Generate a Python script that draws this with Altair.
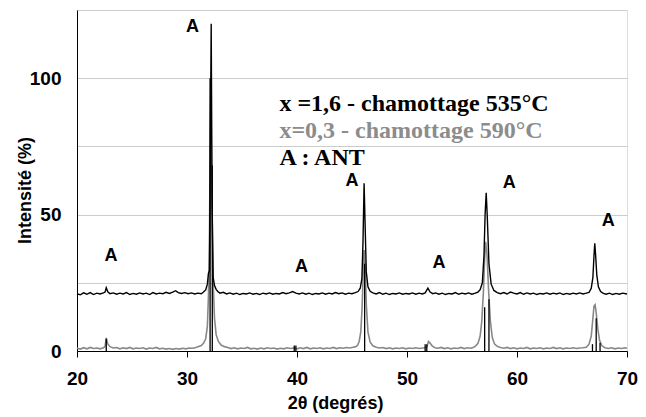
import altair as alt
import pandas as pd

# ---- data ----
black_pts = [
    (20.0, 21.0), (20.3, 20.6), (20.6, 21.3), (20.9, 20.8), (21.2, 21.4), (21.5, 20.7), (21.8, 21.2),
    (22.1, 20.9), (22.4, 21.3), (22.55, 21.6), (22.66, 23.2), (22.8, 21.7), (23.0, 21.0), (23.3, 21.3),
    (23.6, 20.8), (23.9, 21.2), (24.2, 20.9), (24.5, 21.4), (24.8, 20.7), (25.1, 21.1), (25.4, 20.8),
    (25.7, 21.3), (26.0, 20.9), (26.3, 21.2), (26.6, 20.7), (26.9, 21.4), (27.2, 20.9), (27.5, 21.2),
    (27.8, 21.0), (28.1, 21.5), (28.4, 21.1), (28.7, 21.6), (28.96, 22.1), (29.2, 21.4), (29.5, 21.1),
    (29.8, 21.4), (30.1, 21.0), (30.4, 21.3), (30.7, 20.9), (31.0, 21.2), (31.3, 21.0), (31.5, 21.6),
    (31.7, 22.4), (31.85, 24.5), (31.95, 28.5), (32.05, 29.5), (32.12, 75), (32.2, 120), (32.28, 55),
    (32.38, 27), (32.5, 24.0), (32.65, 22.6), (32.8, 21.8), (33.0, 21.2), (33.3, 21.5), (33.6, 20.9),
    (33.9, 21.3), (34.2, 20.8), (34.5, 21.2), (34.8, 20.7), (35.1, 21.1), (35.4, 20.9), (35.7, 21.3),
    (36.0, 20.8), (36.3, 21.1), (36.6, 20.7), (36.9, 21.2), (37.2, 20.9), (37.5, 21.3), (37.8, 20.8),
    (38.1, 21.1), (38.4, 20.9), (38.7, 21.4), (39.0, 21.0), (39.3, 21.3), (39.6, 21.8), (39.9, 21.2),
    (40.2, 20.9), (40.5, 21.3), (40.8, 20.8), (41.1, 21.2), (41.4, 20.7), (41.7, 21.1), (42.0, 20.9),
    (42.3, 21.3), (42.6, 20.8), (42.9, 21.2), (43.2, 20.9), (43.5, 21.4), (43.8, 21.0), (44.1, 21.3),
    (44.4, 20.8), (44.7, 21.2), (45.0, 21.0), (45.3, 21.4), (45.55, 21.8), (45.75, 23.0), (45.9, 26.5),
    (46.0, 40), (46.1, 61.5), (46.2, 45), (46.3, 29), (46.45, 23.5), (46.65, 21.9), (46.9, 21.3),
    (47.2, 20.9), (47.5, 21.4), (47.8, 20.8), (48.1, 21.2), (48.4, 20.7), (48.7, 21.1), (49.0, 20.9),
    (49.3, 21.3), (49.6, 20.8), (49.9, 21.1), (50.2, 20.9), (50.5, 21.3), (50.8, 20.8), (51.1, 21.2),
    (51.4, 20.9), (51.65, 21.3), (51.9, 23.0), (52.1, 21.6), (52.35, 21.0), (52.6, 21.3), (52.9, 20.8),
    (53.2, 21.2), (53.5, 20.7), (53.8, 21.1), (54.1, 20.9), (54.4, 21.4), (54.7, 20.8), (55.0, 21.2),
    (55.3, 20.9), (55.6, 21.3), (55.9, 20.8), (56.2, 21.2), (56.45, 21.6), (56.65, 22.5), (56.85, 25),
    (57.0, 35), (57.1, 50), (57.2, 58), (57.3, 49), (57.45, 32), (57.65, 24.5), (57.9, 22.2),
    (58.2, 21.4), (58.5, 21.0), (58.8, 21.4), (59.1, 20.9), (59.4, 21.6), (59.7, 21.2), (60.0, 20.9),
    (60.3, 21.4), (60.6, 20.8), (60.9, 21.3), (61.2, 20.9), (61.5, 21.2), (61.8, 20.7), (62.1, 21.1),
    (62.4, 20.9), (62.7, 21.3), (63.0, 20.8), (63.3, 21.2), (63.6, 20.9), (63.9, 21.3), (64.2, 20.7),
    (64.5, 21.1), (64.8, 20.8), (65.1, 21.2), (65.4, 20.9), (65.7, 21.3), (66.0, 20.9), (66.3, 21.2),
    (66.55, 21.5), (66.75, 23.0), (66.9, 27), (67.0, 35), (67.07, 39.5), (67.15, 35), (67.25, 28),
    (67.4, 23.5), (67.6, 21.8), (67.85, 21.1), (68.1, 20.8), (68.4, 21.2), (68.7, 20.7), (69.0, 21.1),
    (69.3, 20.8), (69.6, 21.2), (70.0, 20.9),
]

gray_pts = [
    (20.0, 1.0), (20.3, 0.7), (20.6, 1.2), (20.9, 0.8), (21.2, 1.3), (21.5, 0.9), (21.8, 1.1),
    (22.1, 0.8), (22.4, 1.2), (22.55, 1.6), (22.66, 4.8), (22.8, 2.6), (23.0, 1.6), (23.3, 1.1),
    (23.6, 1.3), (23.9, 0.8), (24.2, 1.2), (24.5, 0.9), (24.8, 1.3), (25.1, 0.8), (25.4, 1.1),
    (25.7, 0.9), (26.0, 1.2), (26.3, 0.7), (26.6, 1.1), (26.9, 0.9), (27.2, 1.3), (27.5, 0.8),
    (27.8, 1.0), (28.1, 0.7), (28.4, 0.9), (28.7, 0.6), (29.0, 0.9), (29.3, 0.7), (29.6, 1.0),
    (29.9, 0.8), (30.2, 1.1), (30.5, 1.0), (30.8, 1.3), (31.0, 1.6), (31.3, 2.0), (31.5, 2.8),
    (31.7, 4.5), (31.85, 9), (31.95, 20), (32.05, 45), (32.15, 100), (32.25, 60), (32.35, 28),
    (32.5, 12), (32.65, 6), (32.85, 3.5), (33.1, 2.2), (33.4, 1.6), (33.7, 1.3), (34.0, 0.9),
    (34.3, 1.2), (34.6, 0.8), (34.9, 1.1), (35.2, 0.9), (35.5, 1.3), (35.8, 0.8), (36.1, 1.0),
    (36.4, 0.7), (36.7, 1.1), (37.0, 0.8), (37.3, 1.2), (37.6, 0.9), (37.9, 1.1), (38.2, 0.7),
    (38.5, 1.0), (38.8, 0.8), (39.1, 1.2), (39.4, 0.9), (39.7, 1.1), (40.0, 0.8), (40.3, 1.2),
    (40.6, 0.9), (40.9, 1.3), (41.2, 0.8), (41.5, 1.1), (41.8, 0.9), (42.1, 1.2), (42.4, 0.8),
    (42.7, 1.1), (43.0, 0.9), (43.3, 1.3), (43.6, 0.9), (43.9, 1.2), (44.2, 1.0), (44.5, 1.3),
    (44.8, 1.1), (45.1, 1.4), (45.3, 1.5), (45.5, 2.0), (45.65, 3.5), (45.8, 7), (45.92, 16),
    (46.02, 29), (46.1, 37), (46.2, 31), (46.3, 17), (46.45, 7), (46.65, 3.2), (46.9, 1.9),
    (47.2, 1.4), (47.5, 1.1), (47.8, 1.3), (48.1, 0.9), (48.4, 1.2), (48.7, 0.8), (49.0, 1.1),
    (49.3, 0.9), (49.6, 1.2), (49.9, 0.8), (50.2, 1.1), (50.5, 0.9), (50.8, 1.2), (51.1, 0.9),
    (51.4, 1.1), (51.65, 1.2), (51.8, 1.5), (51.95, 3.5), (52.1, 2.9), (52.3, 1.8), (52.55, 1.2),
    (52.8, 1.0), (53.1, 1.3), (53.4, 0.9), (53.7, 1.2), (54.0, 0.8), (54.3, 1.1), (54.6, 0.9),
    (54.9, 1.3), (55.2, 0.9), (55.5, 1.2), (55.8, 1.0), (56.0, 1.3), (56.2, 1.7), (56.45, 2.8),
    (56.65, 5.5), (56.8, 11), (56.95, 22), (57.05, 33), (57.15, 40), (57.28, 35), (57.42, 22),
    (57.58, 11), (57.75, 5), (57.95, 2.6), (58.2, 1.7), (58.5, 1.3), (58.8, 1.0), (59.1, 1.3),
    (59.4, 0.9), (59.7, 1.2), (60.0, 0.8), (60.3, 1.1), (60.6, 0.9), (60.9, 1.3), (61.2, 0.8),
    (61.5, 1.1), (61.8, 0.9), (62.1, 1.2), (62.4, 0.8), (62.7, 1.1), (63.0, 0.9), (63.3, 1.3),
    (63.6, 0.9), (63.9, 1.2), (64.2, 0.8), (64.5, 1.1), (64.8, 0.9), (65.1, 1.2), (65.4, 0.9),
    (65.7, 1.1), (66.0, 1.2), (66.3, 1.4), (66.55, 2.5), (66.75, 5.5), (66.9, 12), (67.0, 16.5),
    (67.1, 17), (67.2, 14), (67.35, 8), (67.5, 4), (67.7, 2.0), (68.0, 1.2), (68.3, 0.9),
    (68.6, 1.2), (68.9, 0.8), (69.2, 1.1), (69.5, 0.9), (69.8, 1.2), (70.0, 1.0),
]

stick_x = [22.66, 32.1, 32.3, 39.75, 39.9, 46.15, 51.65, 51.8, 57.06, 57.45, 66.86, 67.2, 67.55]
stick_h = [4.5, 100, 68, 2, 2, 32, 2.5, 2.5, 16, 19, 2.5, 12, 3]

peak_label_x = [23.1, 30.5, 40.4, 45.0, 52.9, 59.3, 68.3]
peak_label_y = [35, 118.7, 30.8, 62.3, 32.2, 61.5, 47.6]
peak_label_text = ["A", "A", "A", "A", "A", "A", "A"]

legend_lines = ["x =1,6 - chamottage 535°C", "x=0,3 - chamottage 590°C", "A : ANT"]
legend_colors = ["#000000", "#8c8c8c", "#000000"]
legend_x = [38.4, 38.4, 38.4]
legend_y = [88.0, 78.0, 68.1]

x_ticks = [20, 30, 40, 50, 60, 70]
y_grid = [0, 25, 50, 75, 100, 125]

# ---- tables ----
black_df = pd.DataFrame(black_pts, columns=["x", "y"])
gray_df = pd.DataFrame(gray_pts, columns=["x", "y"])
stick_df = pd.DataFrame({"x": stick_x, "h": stick_h, "y0": [0] * len(stick_x)})
lab_df = pd.DataFrame({"x": peak_label_x, "y": peak_label_y, "t": peak_label_text})
leg_df = pd.DataFrame({"x": legend_x, "y": legend_y, "t": legend_lines, "c": legend_colors})

xs = alt.Scale(domain=[20, 70], nice=False, zero=False)
ys = alt.Scale(domain=[0, 125], nice=False)

x_axis = alt.Axis(
    values=x_ticks, title="2θ (degrés)", grid=False, domainColor="black", tickColor="black",
    tickSize=6, labelPadding=12, labelFlush=False, labelFont="Liberation Sans", labelFontWeight="bold",
    labelFontSize=19, labelColor="black", titleFont="Liberation Sans", titleFontWeight="bold",
    titleFontSize=18, titleColor="black", titleBaseline="alphabetic", titleY=57, titleX=258,
)
y_axis = alt.Axis(
    values=y_grid, title="Intensité (%)", grid=True, gridColor="#cccccc", gridWidth=1,
    domainColor="black", ticks=False, tickSize=0, labelPadding=16, labelFlush=False,
    labelExpr="datum.value % 50 == 0 ? datum.label : ''",
    labelFont="Liberation Sans", labelFontWeight="bold", labelFontSize=19, labelColor="black",
    titleFont="Liberation Sans", titleFontWeight="bold", titleFontSize=18, titleColor="black",
    titleAngle=-90, titleX=-52, titleY=180, titleAlign="center", titleBaseline="middle",
)

gray = alt.Chart(gray_df).mark_line(color="#888888", strokeWidth=1.6).encode(
    x=alt.X("x:Q", scale=xs, axis=x_axis),
    y=alt.Y("y:Q", scale=ys, axis=y_axis),
)
sticks = alt.Chart(stick_df).mark_rule(color="black", strokeWidth=1.3).encode(
    x=alt.X("x:Q", scale=xs), y=alt.Y("y0:Q", scale=ys), y2="h:Q"
)
black = alt.Chart(black_df).mark_line(color="black", strokeWidth=1.4).encode(
    x=alt.X("x:Q", scale=xs), y=alt.Y("y:Q", scale=ys)
)
labels = alt.Chart(lab_df).mark_text(
    font="Liberation Sans", fontWeight="bold", fontSize=18, color="black", baseline="middle"
).encode(x=alt.X("x:Q", scale=xs), y=alt.Y("y:Q", scale=ys), text="t:N")
legend = alt.Chart(leg_df).mark_text(
    font="Liberation Serif", fontWeight="bold", fontSize=24, align="left", baseline="alphabetic"
).encode(
    x=alt.X("x:Q", scale=xs), y=alt.Y("y:Q", scale=ys), text="t:N",
    color=alt.Color("c:N", scale=None),
)

chart = alt.layer(gray, sticks, black, labels, legend).properties(
    width=550, height=341,
    padding={"left": 69, "top": 2, "right": 11, "bottom": 64},
    autosize=alt.AutoSizeParams(type="none"),
).configure_view(stroke=None).configure(background="white")

chart.save("out.html", embed_options={"renderer": "svg", "actions": False})
